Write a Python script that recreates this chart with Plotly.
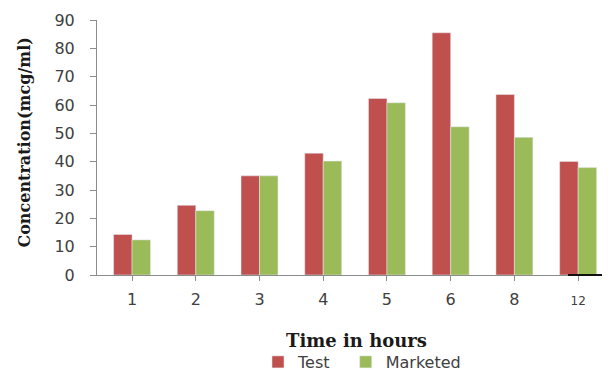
import plotly.graph_objects as go

hours = ["1", "2", "3", "4", "5", "6", "8", "12"]
test = [14.3, 24.6, 35.0, 43.0, 62.3, 85.5, 63.7, 40.1]
marketed = [12.4, 22.7, 35.0, 40.2, 60.8, 52.3, 48.6, 37.9]
yticks = [0, 10, 20, 30, 40, 50, 60, 70, 80, 90]

fig = go.Figure()
# trailing non-breaking spaces widen the first legend entry to match the reference spacing
fig.add_trace(go.Bar(x=hours, y=test, name="Test\u00a0\u00a0", marker_color="#C0504D"))
fig.add_trace(go.Bar(x=hours, y=marketed, name="Marketed", marker_color="#9BBB59"))

ticktext = [h if h != "12" else "<span style='font-size:12px'>12</span>" for h in hours]

# page body has an 8px default margin, so the figure is 8px smaller than the window
fig.update_layout(
    width=602, height=363,
    margin=dict(l=89, r=0, t=12, b=96, autoexpand=False),
    paper_bgcolor="white", plot_bgcolor="white",
    barmode="group", bargap=0.42, bargroupgap=0,
    font=dict(family="DejaVu Sans", size=16, color="#404040"),
    showlegend=True,
    legend=dict(orientation="h", x=(258 - 97) / 513, xanchor="left",
                y=(275 - 362) / 255, yanchor="middle",
                font=dict(size=16, color="#404040"), itemwidth=30),
    xaxis=dict(type="category", range=[-0.55, 7.5], showline=True, linecolor="#8c8c8c",
               linewidth=1, ticks="outside", ticklen=5, tickcolor="#8c8c8c",
               tickvals=hours, ticktext=ticktext, showgrid=False, zeroline=False,
               ticklabelstandoff=5),
    yaxis=dict(range=[0, 90], tickvals=yticks, showline=True, linecolor="#8c8c8c",
               linewidth=1, ticks="outside", ticklen=6, tickcolor="#8c8c8c",
               showgrid=False, zeroline=False, ticklabelstandoff=12),
    shapes=[dict(type="line", xref="paper", yref="paper", x0=(568 - 97) / 513, x1=1,
                 y0=0, y1=0, line=dict(color="#111111", width=2))],
    annotations=[
        dict(text="<b>Concentration(mcg/ml)</b>", xref="paper", yref="paper",
             x=-0.142, y=0.52, xanchor="center", yanchor="middle", textangle=-90,
             showarrow=False, font=dict(family="DejaVu Serif", size=16, color="#1a1a1a")),
        dict(text="<b>Time in hours</b>", xref="paper", yref="paper",
             x=0.505, y=-0.255, xanchor="center", yanchor="middle",
             showarrow=False, font=dict(family="DejaVu Serif", size=18, color="#1a1a1a")),
    ],
)

fig.write_html("out.html")
